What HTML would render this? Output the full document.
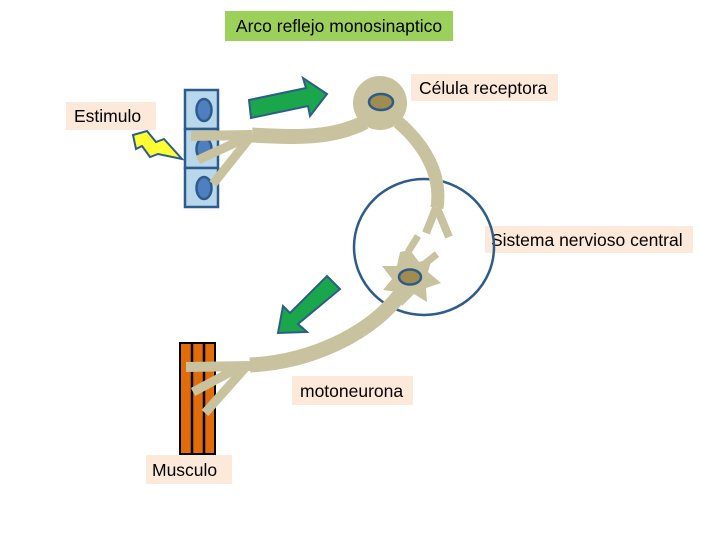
<!DOCTYPE html>
<html><head><style>
html,body{margin:0;padding:0;background:#fff;}
svg{display:block;}
text{font-family:"Liberation Sans",sans-serif;font-size:17.5px;fill:#000;}
</style></head><body>
<svg width="720" height="540" viewBox="0 0 720 540" xmlns="http://www.w3.org/2000/svg">
<rect width="720" height="540" fill="#fff"/>
<!-- title -->
<rect x="225" y="11" width="228" height="30" fill="#9bd15a"/>
<text x="339" y="32" text-anchor="middle" font-size="17">Arco reflejo monosinaptico</text>
<!-- labels -->
<rect x="411" y="74" width="147" height="27" fill="#fde9d9"/>
<text x="419" y="94">Célula receptora</text>
<rect x="66" y="102" width="90" height="28" fill="#fde9d9"/>
<text x="74" y="122">Estimulo</text>
<rect x="485" y="226" width="208" height="27" fill="#fde9d9"/>
<text x="491" y="246">Sistema nervioso central</text>
<rect x="292" y="376" width="121" height="29" fill="#fde9d9"/>
<text x="300" y="397">motoneurona</text>
<rect x="146" y="455" width="86" height="29" fill="#fde9d9"/>
<text x="152" y="476">Musculo</text>

<!-- epithelial cells -->
<g stroke="#2e5c8a" stroke-width="2.5">
<rect x="185" y="90" width="33" height="39" fill="#b9d7ea"/>
<rect x="185" y="129" width="33" height="39" fill="#b9d7ea"/>
<rect x="185" y="168" width="33" height="39" fill="#b9d7ea"/>
<ellipse cx="204" cy="110" rx="7.5" ry="11" fill="#4f7fc0"/>
<ellipse cx="204" cy="149" rx="7.5" ry="11" fill="#4f7fc0"/>
<ellipse cx="204" cy="188" rx="7.5" ry="11" fill="#4f7fc0"/>
</g>
<!-- lightning -->
<polygon points="133,135 147,131 156,142 164,139 182,159 158,154 150,157 142,146 136,149" fill="#ffff33" stroke="#2e5c8a" stroke-width="2"/>

<!-- muscle -->
<rect x="180" y="343" width="35" height="111" fill="#e36c0a" stroke="#000" stroke-width="2"/>
<line x1="192" y1="343" x2="192" y2="454" stroke="#000" stroke-width="2.5"/>
<line x1="204" y1="343" x2="204" y2="454" stroke="#000" stroke-width="2.5"/>

<!-- CNS circle -->
<ellipse cx="424" cy="247" rx="70" ry="68" fill="none" stroke="#2e5c8a" stroke-width="2.5"/>

<!-- neurons -->
<g stroke="#c9c29e" fill="none" stroke-linecap="butt">
<path d="M365,122 C330,140 290,137 252,135" stroke-width="15"/>
<path d="M252,135 L191,136" stroke-width="10"/>
<path d="M252,135 L198,160" stroke-width="9"/>
<path d="M252,135 L213,184" stroke-width="9"/>
<path d="M398,122 C425,145 442,175 437,208" stroke-width="13"/>
<path d="M436,208 L426,233" stroke-width="8"/>
<path d="M437,208 L449,237" stroke-width="8"/>
<path d="M408,252 L418,236" stroke-width="7"/>
<path d="M422,266 L437,254" stroke-width="7"/>
<path d="M402,292 C370,335 310,362 250,365" stroke-width="15"/>
<path d="M252,366 L186,367" stroke-width="10"/>
<path d="M238,368 L193,392" stroke-width="9"/>
<path d="M245,368 L205,413" stroke-width="9"/>
</g>
<circle cx="380" cy="103" r="27" fill="#c9c29e"/>
<polygon points="410,250 419,262 432,258 428,272 441,283 426,288 427,302 414,294 402,306 398,292 383,290 392,279 382,266 397,266 400,252" fill="#c9c29e"/>
<g stroke="#2e5c8a" stroke-width="2.5">
<ellipse cx="381" cy="102" rx="12" ry="8" fill="#a08c50"/>
<ellipse cx="410" cy="277" rx="11" ry="7.5" fill="#a08c50"/>
</g>

<!-- green arrows -->
<polygon points="249,100 306,88 303,78 327,94 310,116 308,106 251,118" fill="#1aa64a" stroke="#2e5c8a" stroke-width="2"/>
<polygon points="327,276 340,289 298,324 307,332 278,333 283,306 290,313" fill="#1aa64a" stroke="#2e5c8a" stroke-width="2"/>
</svg>
</body></html>
